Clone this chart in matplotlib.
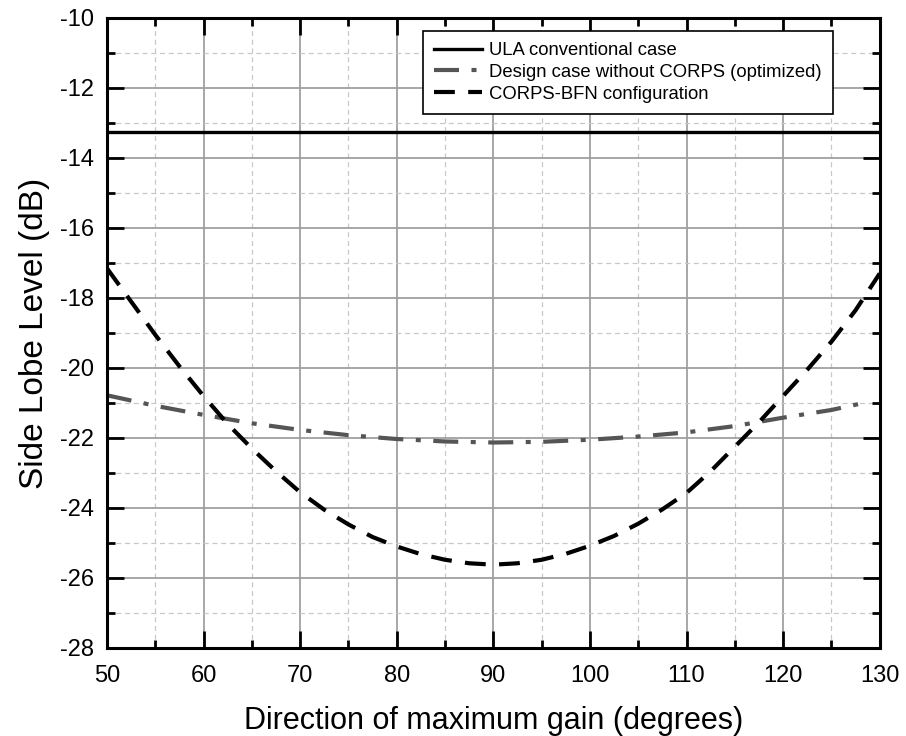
import matplotlib
matplotlib.use("Agg")
import matplotlib.pyplot as plt
from matplotlib.ticker import MultipleLocator

plt.rcParams['font.family'] = ['Liberation Sans', 'DejaVu Sans']
plt.rcParams['axes.unicode_minus'] = False

# Data
ula_x = [50, 130]
ula_y = [-13.26, -13.26]

design_x = [50, 55, 60, 65, 70, 75, 80, 85, 90, 95, 100, 105, 110, 115, 120, 125, 128]
design_y = [-20.78, -21.08, -21.34, -21.58, -21.77, -21.92, -22.03, -22.10, -22.13, -22.11, -22.05, -21.96, -21.84, -21.66, -21.42, -21.20, -21.02]

corps_x = [50, 52.5, 55, 57.5, 60, 62.5, 65, 67.5, 70, 72.5, 75, 77.5, 80, 82.5, 85, 87.5, 90,
           92.5, 95, 97.5, 100, 102.5, 105, 107.5, 110, 112.5, 115, 117.5, 120, 122.5, 125, 127.5, 130]
corps_y = [-17.15, -18.1, -19.05, -19.95, -20.8, -21.6, -22.3, -22.95, -23.55, -24.05, -24.47, -24.83, -25.1,
           -25.32, -25.48, -25.58, -25.62, -25.58, -25.48, -25.31, -25.08, -24.8, -24.45, -24.04, -23.57,
           -22.95, -22.25, -21.55, -20.8, -20.05, -19.25, -18.35, -17.3]

fig = plt.figure(figsize=(9.06, 7.36), dpi=100)
ax = fig.add_axes([0.118, 0.1196, 0.853, 0.856])

ax.plot(ula_x, ula_y, color='black', lw=2.4, label='ULA conventional case')
ax.plot(design_x, design_y, color='#555555', lw=3.0, linestyle=(0, (6, 3, 1.2, 3)),
        label='Design case without CORPS (optimized)')
ax.plot(corps_x, corps_y, color='black', lw=3.0, linestyle=(0, (5, 3.2)),
        label='CORPS-BFN configuration')

ax.set_xlim(50, 130)
ax.set_ylim(-28, -10)
ax.xaxis.set_major_locator(MultipleLocator(10))
ax.xaxis.set_minor_locator(MultipleLocator(5))
ax.yaxis.set_major_locator(MultipleLocator(2))
ax.yaxis.set_minor_locator(MultipleLocator(1))

ax.grid(which='major', color='#a0a0a0', lw=1.3, linestyle='-')
ax.grid(which='minor', color='#c8c8c8', lw=0.9, linestyle=(0, (4, 3)))
ax.set_axisbelow(True)

ax.tick_params(which='both', direction='in', top=True, right=True, width=2, color='black')
ax.tick_params(which='major', length=12, labelsize=17)
ax.tick_params(axis='x', which='major', pad=12)
ax.tick_params(axis='y', which='major', pad=9.5)
ax.tick_params(which='minor', length=6)
for s in ax.spines.values():
    s.set_linewidth(2.2)

ax.set_xlabel('Direction of maximum gain (degrees)', fontsize=22, labelpad=14)
ax.set_ylabel('Side Lobe Level (dB)', fontsize=24, labelpad=7)

leg = ax.legend(loc='upper right', bbox_to_anchor=(0.939, 0.979), fontsize=13.3,
                frameon=True, fancybox=False, edgecolor='black', framealpha=1,
                handlelength=2.6, borderpad=0.6, labelspacing=0.25, handletextpad=0.35,
                borderaxespad=0)
leg.get_frame().set_linewidth(1.2)

fig.savefig('out.png', dpi=100)
